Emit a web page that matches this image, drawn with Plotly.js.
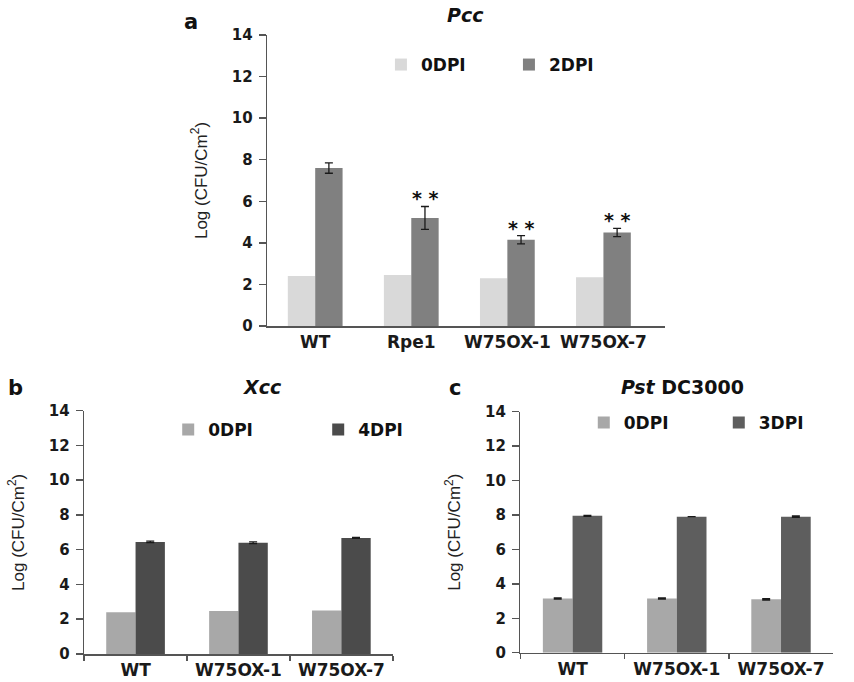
<!DOCTYPE html>
<html>
<head>
<meta charset="utf-8">
<script src="https://cdn.plot.ly/plotly-3.0.1.min.js"></script>
<style>html,body{margin:0;padding:0;background:#fff;}#chart{width:854px;height:682px;}</style>
</head>
<body>
<div id="chart"></div>
<script>
// Panel a: Pcc
const catsA = ['WT', 'Rpe1', 'W75OX-1', 'W75OX-7'];
const a0dpi = [2.4, 2.45, 2.3, 2.35];
const a2dpi = [7.6, 5.2, 4.15, 4.5];
const a2err = [0.25, 0.55, 0.2, 0.2];
const aStars = ['', '* *', '* *', '* *'];
// Panel b: Xcc
const catsB = ['WT', 'W75OX-1', 'W75OX-7'];
const b0dpi = [2.4, 2.48, 2.5];
const b4dpi = [6.45, 6.4, 6.68];
const b4err = [0.04, 0.05, 0.03];
// Panel c: Pst DC3000
const catsC = ['WT', 'W75OX-1', 'W75OX-7'];
const c0dpi = [3.15, 3.15, 3.1];
const c0err = [0.04, 0.04, 0.04];
const c3dpi = [7.95, 7.9, 7.9];
const c3err = [0.03, 0.0, 0.04];

const W = 854, H = 682;
const px = v => v / W;
const py = v => (H - v) / H;

const errStyle = (arr) => ({type: 'data', array: arr, visible: true, color: '#1a1a1a', thickness: 1.3, width: 4});

const traces = [
  {type: 'bar', name: '0DPI', x: catsA, y: a0dpi, marker: {color: '#d9d9d9'}, xaxis: 'x', yaxis: 'y', legend: 'legend'},
  {type: 'bar', name: '2DPI', x: catsA, y: a2dpi, marker: {color: '#808080'}, error_y: errStyle(a2err), xaxis: 'x', yaxis: 'y', legend: 'legend'},
  {type: 'bar', name: '0DPI', x: catsB, y: b0dpi, marker: {color: '#a8a8a8'}, xaxis: 'x2', yaxis: 'y2', legend: 'legend2'},
  {type: 'bar', name: '4DPI', x: catsB, y: b4dpi, marker: {color: '#4b4b4b'}, error_y: errStyle(b4err), xaxis: 'x2', yaxis: 'y2', legend: 'legend2'},
  {type: 'bar', name: '0DPI', x: catsC, y: c0dpi, marker: {color: '#a8a8a8'}, error_y: errStyle(c0err), xaxis: 'x3', yaxis: 'y3', legend: 'legend3'},
  {type: 'bar', name: '3DPI', x: catsC, y: c3dpi, marker: {color: '#5e5e5e'}, error_y: errStyle(c3err), xaxis: 'x3', yaxis: 'y3', legend: 'legend3'}
];

const tickFont = {family: 'DejaVu Sans', size: 15, color: '#1a1a1a', weight: 'bold'};
const catFont = {family: 'DejaVu Sans', size: 17, color: '#1a1a1a', weight: 'bold'};
const ytitle = {text: 'Log (CFU/Cm<sup>2</sup>)', font: {family: 'Liberation Sans, Arial', size: 17, color: '#222'}, standoff: 20};

function yax(domain, anchor) {
  return {domain: domain, anchor: anchor, range: [0, 14], dtick: 2, showgrid: false, zeroline: false,
    showline: true, linecolor: '#555', linewidth: 1.5, ticks: 'outside', ticklen: 7, tickcolor: '#555',
    tickwidth: 1.5, tickfont: tickFont, ticklabelstandoff: 3, title: ytitle, fixedrange: true};
}
function xax(domain, anchor, range, withTicks) {
  return {domain: domain, anchor: anchor, type: 'category', range: range, showgrid: false, zeroline: false,
    showline: true, linecolor: '#555', linewidth: 1.5, ticks: withTicks ? 'outside' : '', tickson: 'boundaries',
    ticklen: 5, tickcolor: '#555', tickwidth: 1.5, tickfont: catFont, fixedrange: true};
}

const annotations = [];
const lab = (text, x, y, size, extra) => annotations.push(Object.assign({
  text: text, xref: 'paper', yref: 'paper', x: px(x), y: py(y), xanchor: 'center', yanchor: 'middle',
  showarrow: false, font: {family: 'DejaVu Sans', size: size, color: '#111', weight: 'bold'}
}, extra || {}));
lab('a', 193, 22, 21);
lab('b', 16, 388, 21);
lab('c', 460, 388, 21);
lab('<i>Pcc</i>', 470, 15, 19);
lab('<i>Xcc</i>', 265, 387, 19);
lab('<i>Pst</i> DC3000', 690, 387, 19);

catsA.forEach((c, i) => {
  if (aStars[i]) {
    annotations.push({text: aStars[i], xref: 'x', yref: 'y', x: c, y: a2dpi[i] + a2err[i],
      xanchor: 'center', yanchor: 'bottom', xshift: 14, yshift: -5, showarrow: false,
      font: {family: 'DejaVu Sans', size: 19, color: '#111', weight: 'bold'}});
  }
});

const legFont = {family: 'DejaVu Sans', size: 17, color: '#111', weight: 'bold'};
const layout = {
  width: W, height: H, margin: {l: 0, r: 0, t: 0, b: 0},
  paper_bgcolor: '#fff', plot_bgcolor: '#fff',
  barmode: 'group', bargap: 0.43, bargroupgap: 0,
  xaxis: xax([px(270), px(672)], 'y', [-0.5, 3.64], false),
  yaxis: yax([py(326), py(35)], 'x'),
  xaxis2: xax([px(85), px(397)], 'y2', [-0.5, 2.5], true),
  yaxis2: yax([py(654), py(410.7)], 'x2'),
  xaxis3: xax([px(526), px(842)], 'y3', [-0.5, 2.5], true),
  yaxis3: yax([py(652.7), py(411.7)], 'x3'),
  legend: {orientation: 'h', x: px(385), y: py(65), xanchor: 'left', yanchor: 'middle', font: legFont,
    entrywidth: 83, entrywidthmode: 'pixels', itemwidth: 30, bgcolor: 'rgba(0,0,0,0)'},
  legend2: {orientation: 'h', x: px(170), y: py(430), xanchor: 'left', yanchor: 'middle', font: legFont,
    entrywidth: 105, entrywidthmode: 'pixels', itemwidth: 30, bgcolor: 'rgba(0,0,0,0)'},
  legend3: {orientation: 'h', x: px(590), y: py(423), xanchor: 'left', yanchor: 'middle', font: legFont,
    entrywidth: 90, entrywidthmode: 'pixels', itemwidth: 30, bgcolor: 'rgba(0,0,0,0)'},
  annotations: annotations,
  showlegend: true
};

Plotly.newPlot('chart', traces, layout, {displayModeBar: false, staticPlot: true});
</script>
</body>
</html>
